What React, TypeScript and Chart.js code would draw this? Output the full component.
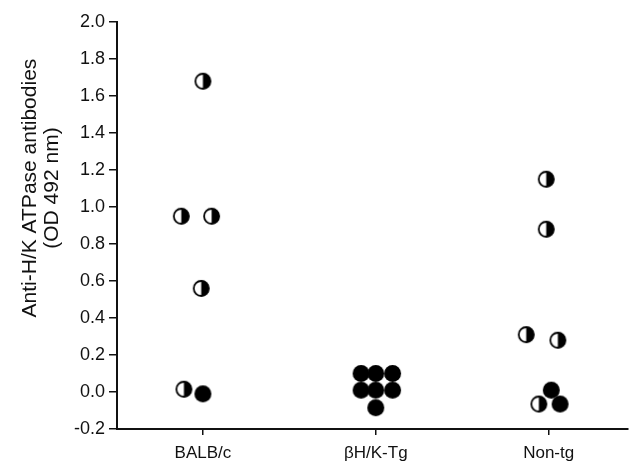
import React, { useEffect, useRef } from "react";
import { Chart, registerables } from "chart.js";

Chart.register(...registerables);

const categories = ["BALB/c", "βH/K-Tg", "Non-tg"];
const yTitle = ["Anti-H/K ATPase antibodies", "(OD 492 nm)"];

// values (OD 492 nm), horizontal jitter within each group, and marker type (true = solid, false = half-filled)
const balbValues = [1.68, 0.95, 0.95, 0.56, 0.015, -0.01];
const balbJitter = [0, -0.125, 0.05, -0.01, -0.11, 0];
const balbSolid = [false, false, false, false, false, true];

const tgValues = [0.1, 0.1, 0.1, 0.01, 0.01, 0.01, -0.085];
const tgJitter = [-0.085, 0, 0.097, -0.085, 0, 0.097, 0];
const tgSolid = [true, true, true, true, true, true, true];

const nonValues = [1.15, 0.88, 0.31, 0.28, 0.01, -0.065, -0.065];
const nonJitter = [-0.014, -0.014, -0.13, 0.053, 0.015, -0.057, 0.066];
const nonSolid = [false, false, false, false, true, false, true];

const yTicks = [-0.2, 0, 0.2, 0.4, 0.6, 0.8, 1.0, 1.2, 1.4, 1.6, 1.8, 2.0];

const FONT = "'Liberation Sans', Arial, Helvetica, sans-serif";
const R = 8.5;

function makeHalf(): HTMLCanvasElement {
  const size = Math.ceil(2 * R + 4);
  const c = document.createElement("canvas");
  c.width = size;
  c.height = size;
  const ctx = c.getContext("2d")!;
  const m = size / 2;
  ctx.beginPath();
  ctx.arc(m, m, R - 0.5, 0, Math.PI * 2);
  ctx.fillStyle = "#fff";
  ctx.fill();
  ctx.beginPath();
  ctx.moveTo(m, m - R + 0.5);
  ctx.arc(m, m, R - 0.5, -Math.PI / 2, Math.PI / 2);
  ctx.closePath();
  ctx.fillStyle = "#000";
  ctx.fill();
  ctx.beginPath();
  ctx.arc(m, m, R - 1, 0, Math.PI * 2);
  ctx.lineWidth = 1.8;
  ctx.strokeStyle = "#000";
  ctx.stroke();
  return c;
}

function makeSolid(): HTMLCanvasElement {
  const size = Math.ceil(2 * R + 4);
  const c = document.createElement("canvas");
  c.width = size;
  c.height = size;
  const ctx = c.getContext("2d")!;
  const m = size / 2;
  ctx.beginPath();
  ctx.arc(m, m, R, 0, Math.PI * 2);
  ctx.fillStyle = "#000";
  ctx.fill();
  return c;
}

const yTitlePlugin = {
  id: "yTitleText",
  afterDraw(chart: any) {
    const { ctx, chartArea } = chart;
    const cy = chartArea.top + (chartArea.bottom - chartArea.top) * 0.408;
    ctx.save();
    ctx.fillStyle = "#111";
    ctx.font = `21px ${FONT}`;
    ctx.textAlign = "center";
    ctx.textBaseline = "middle";
    yTitle.forEach((line, i) => {
      ctx.save();
      ctx.translate(30 + i * 22.5, cy);
      ctx.rotate(-Math.PI / 2);
      ctx.fillText(line, 0, 0);
      ctx.restore();
    });
    ctx.restore();
  },
};

export default function App() {
  const ref = useRef<HTMLCanvasElement>(null);

  useEffect(() => {
    if (!ref.current) return;
    const half = makeHalf();
    const solid = makeSolid();
    const build = (group: number, vals: number[], jit: number[], sol: boolean[]) => ({
      label: categories[group - 1],
      data: vals.map((v, i) => ({ x: group + jit[i], y: v })),
      pointStyle: sol.map((s) => (s ? solid : half)),
      pointRadius: R,
      backgroundColor: "#000",
      borderColor: "#000",
      showLine: false,
    });
    const chart = new Chart(ref.current, {
      type: "scatter",
      data: {
        datasets: [
          build(1, balbValues, balbJitter, balbSolid),
          build(2, tgValues, tgJitter, tgSolid),
          build(3, nonValues, nonJitter, nonSolid),
        ],
      },
      plugins: [yTitlePlugin],
      options: {
        animation: false,
        responsive: false,
        maintainAspectRatio: false,
        layout: { padding: { top: 22, right: 0, left: 0, bottom: 0 } },
        plugins: { legend: { display: false }, tooltip: { enabled: false } },
        scales: {
          x: {
            type: "linear",
            min: 0.503,
            max: 3.456,
            afterBuildTicks: (axis: any) => {
              axis.ticks = categories.map((_, i) => ({ value: i + 1 }));
            },
            afterFit: (axis: any) => {
              axis.height = 43;
            },
            ticks: {
              callback: (v: any) => categories[Math.round(Number(v)) - 1] ?? "",
              color: "#111",
              font: { family: FONT, size: 17 },
              padding: 8,
              maxRotation: 0,
              autoSkip: false,
            },
            grid: { drawOnChartArea: false, drawTicks: true, tickLength: 6, color: "#111", lineWidth: 1.5 },
            border: { display: true, color: "#111", width: 2 },
          },
          y: {
            type: "linear",
            min: -0.2,
            max: 2.0,
            afterBuildTicks: (axis: any) => {
              axis.ticks = yTicks.map((v) => ({ value: v }));
            },
            afterFit: (axis: any) => {
              axis.width = 117;
            },
            ticks: {
              callback: (v: any) => Number(v).toFixed(1),
              color: "#111",
              font: { family: FONT, size: 18 },
              padding: 4,
              autoSkip: false,
            },
            grid: { drawOnChartArea: false, drawTicks: true, tickLength: 8, color: "#111", lineWidth: 1.5 },
            border: { display: true, color: "#111", width: 2 },
          },
        },
      },
    });
    return () => chart.destroy();
  }, []);

  return (
    <div style={{ position: "fixed", left: 0, top: 0, width: 637, height: 472, background: "#fff" }}>
      <canvas ref={ref} width={637} height={472} style={{ width: 637, height: 472, display: "block" }} />
    </div>
  );
}
